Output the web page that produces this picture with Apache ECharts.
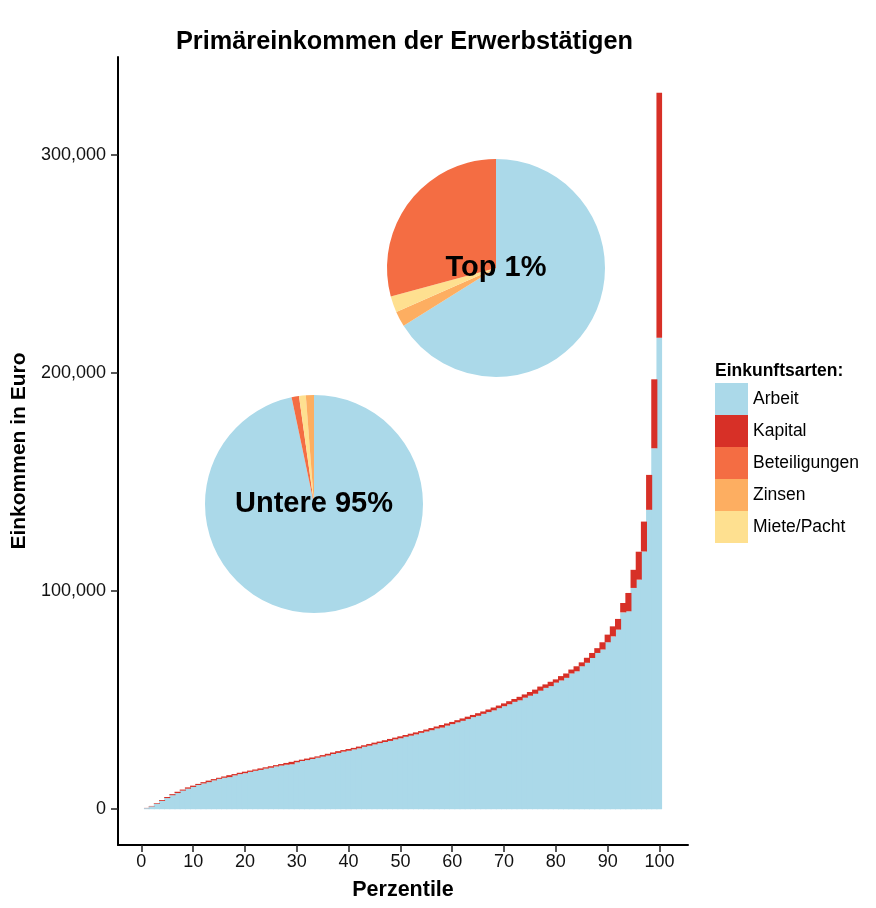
<!DOCTYPE html>
<html>
<head>
<meta charset="utf-8">
<script src="https://cdn.jsdelivr.net/npm/echarts@6/dist/echarts.min.js"></script>
<style>
html,body{margin:0;padding:0;background:#fff;}
#chart{width:876px;height:908px;}
</style>
</head>
<body>
<div id="chart"></div>
<script>
// ---- data ----
const percentiles = [1,2,3,4,5,6,7,8,9,10,11,12,13,14,15,16,17,18,19,20,21,22,23,24,25,26,27,28,29,30,31,32,33,34,35,36,37,38,39,40,41,42,43,44,45,46,47,48,49,50,51,52,53,54,55,56,57,58,59,60,61,62,63,64,65,66,67,68,69,70,71,72,73,74,75,76,77,78,79,80,81,82,83,84,85,86,87,88,89,90,91,92,93,94,95,96,97,98,99,100];
const arbeit = [500,1300,2500,3800,5100,6400,7400,8500,9400,10200,11100,11800,12400,13200,13900,14400,14700,15500,16100,16500,17100,17600,18000,18600,19000,19600,20000,20400,20600,21500,22100,22500,23000,23600,24100,24600,25300,25800,26400,26800,27400,27900,28600,29100,29700,30300,30800,31300,32000,32500,33200,33700,34300,35000,35600,36200,37000,37400,38300,39000,39800,40500,41300,42200,42800,43700,44500,45300,46300,47200,48100,49200,49900,51100,52000,52900,54300,55600,56400,58000,59000,60200,62200,63200,65500,67100,69300,71600,73200,76500,79200,82300,90200,90700,101400,105200,118100,137200,165400,216000];
const kapital = [100,200,300,400,500,500,600,500,600,600,500,600,700,600,500,600,900,600,600,700,600,600,700,600,700,600,700,800,1100,700,600,700,700,600,700,800,700,800,700,800,700,800,700,800,800,700,800,900,800,900,800,900,900,800,900,1000,900,1200,1000,1000,1000,1100,1100,1000,1200,1100,1200,1300,1200,1300,1400,1300,1600,1500,1700,1900,1900,1600,2000,1500,2000,2000,1800,2300,1800,2300,2300,2200,3300,3500,4600,4900,4300,8400,8300,12800,13700,16000,31600,112300];
const top1Names = ['Arbeit','Zinsen','Miete/Pacht','Beteiligungen'];
const top1Shares = [66.1,2.3,2.4,29.2];
const low95Names = ['Arbeit','Beteiligungen','Miete/Pacht','Zinsen'];
const low95Shares = [96.7,1.1,1.0,1.2];
const xTicks = [0,10,20,30,40,50,60,70,80,90,100];
const yTicks = [0,100000,200000,300000];
const legendNames = ['Arbeit','Kapital','Beteiligungen','Zinsen','Miete/Pacht'];

// ---- styles / layout ----
const colors = {
  'Arbeit':'#abd9e9','Kapital':'#d73027','Beteiligungen':'#f46d43',
  'Zinsen':'#fdae61','Miete/Pacht':'#fee090'
};
const FONT = '"Liberation Sans", Arial, sans-serif';
const X_MIN = -4.5, X_MAX = 105.5, Y_MIN = -16400, Y_MAX = 344700;
const G = {left:118, top:57, right:188, bottom:63};
const plotW = 876 - G.left - G.right;
const pxPerUnit = plotW / (X_MAX - X_MIN);
// bar grid spans percentiles 0.5 .. 100.5 on the visible axis scale
const barLeft = G.left + (0.5 - X_MIN) * pxPerUnit;
const barRight = 876 - (G.left + (100.5 - X_MIN) * pxPerUnit);

function pieData(names, vals, label){
  return names.map((n,i)=>{
    const d = {name:n, value:vals[i], itemStyle:{color:colors[n]}};
    if(i===0){
      d.label = {show:true, position:'center', formatter:label,
        fontFamily:FONT, fontWeight:'bold', fontSize:29, color:'#000'};
    }
    return d;
  });
}
function fmt(v){ return String(v).replace(/\B(?=(\d{3})+(?!\d))/g, ','); }

const chart = echarts.init(document.getElementById('chart'), null, {renderer:'canvas'});
const axisLine = {show:true, onZero:false, lineStyle:{color:'#000', width:2}};
const axisTick = {show:true, length:7, lineStyle:{color:'#222', width:1.5}};

chart.setOption({
  animation:false,
  backgroundColor:'#fff',
  textStyle:{fontFamily:FONT},
  title:[
    {text:'Primäreinkommen der Erwerbstätigen', left:176, top:30, padding:0,
     textStyle:{fontFamily:FONT, fontWeight:'bold', fontSize:25.3, color:'#000'}},
    {text:'Einkunftsarten:', left:715, top:362, padding:0,
     textStyle:{fontFamily:FONT, fontWeight:'bold', fontSize:17.5, color:'#000'}}
  ],
  legend:{
    orient:'vertical', left:715, top:383, padding:0, itemGap:0,
    itemWidth:33, itemHeight:32, icon:'rect', selectedMode:false,
    data:legendNames.map(n=>({name:n, itemStyle:{color:colors[n]}})),
    textStyle:{fontFamily:FONT, fontSize:17.5, color:'#000', lineHeight:20}
  },
  grid:[
    {left:G.left, top:G.top, right:G.right, bottom:G.bottom, containLabel:false},
    {left:barLeft, top:G.top, right:barRight, bottom:G.bottom, containLabel:false}
  ],
  xAxis:[{
    type:'value', min:X_MIN, max:X_MAX, gridIndex:0,
    name:'Perzentile', nameLocation:'middle', nameGap:34,
    nameTextStyle:{fontFamily:FONT, fontWeight:'bold', fontSize:21.5, color:'#000'},
    axisLine:axisLine,
    axisTick:Object.assign({customValues:xTicks}, axisTick),
    axisLabel:{customValues:xTicks, margin:8, fontFamily:FONT, fontSize:18, color:'#111'},
    splitLine:{show:false}
  },{
    type:'category', gridIndex:1, data:percentiles, boundaryGap:true, show:false
  }],
  yAxis:[{
    type:'value', min:Y_MIN, max:Y_MAX, gridIndex:0,
    name:'Einkommen in Euro', nameLocation:'middle', nameGap:88, nameRotate:90,
    nameTextStyle:{fontFamily:FONT, fontWeight:'bold', fontSize:21, color:'#000'},
    axisLine:axisLine,
    axisTick:Object.assign({customValues:yTicks}, axisTick),
    axisLabel:{customValues:yTicks, margin:12, fontFamily:FONT, fontSize:18, color:'#111', formatter:fmt},
    splitLine:{show:false}
  },{
    type:'value', min:Y_MIN, max:Y_MAX, gridIndex:1, show:false, splitLine:{show:false}
  }],
  series:[
    {name:'Arbeit', type:'bar', stack:'total', xAxisIndex:1, yAxisIndex:1,
     barWidth:'118%', data:arbeit,
     itemStyle:{color:colors['Arbeit']},
     silent:true},
    {name:'Kapital', type:'bar', stack:'total', xAxisIndex:1, yAxisIndex:1,
     barWidth:'118%', data:kapital,
     itemStyle:{color:colors['Kapital']},
     silent:true},
    {name:'Top 1%', type:'pie', center:[496,268], radius:[0,109],
     startAngle:90, clockwise:true, silent:true,
     label:{show:false}, labelLine:{show:false},
     data:pieData(top1Names, top1Shares, 'Top 1%')},
    {name:'Untere 95%', type:'pie', center:[314,504], radius:[0,109],
     startAngle:90, clockwise:true, silent:true,
     label:{show:false}, labelLine:{show:false},
     data:pieData(low95Names, low95Shares, 'Untere 95%')}
  ]
});
</script>
</body>
</html>
